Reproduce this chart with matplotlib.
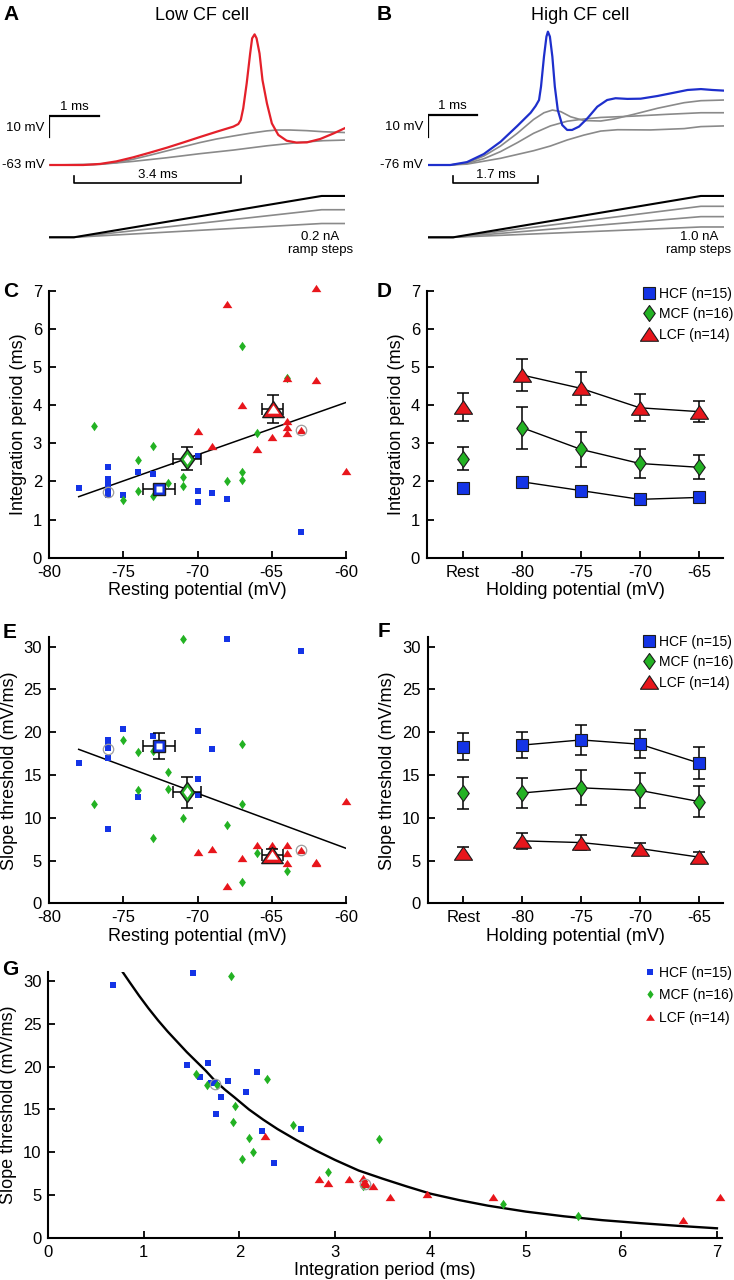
import numpy as np
import matplotlib.pyplot as plt
from matplotlib.path import Path
from matplotlib.lines import Line2D

plt.rcParams['font.family'] = ['Liberation Sans', 'DejaVu Sans']
plt.rcParams['axes.unicode_minus'] = False

# ---------------- data ----------------
# A: low CF cell (time ms, membrane potential mV)
a_red_t = [0, 0.69, 1.03, 1.36, 1.70, 2.04, 2.38, 2.72, 3.05, 3.39, 3.73, 3.83, 3.88, 3.93, 4.0,
           4.07, 4.11, 4.16, 4.20, 4.26, 4.32, 4.41, 4.51, 4.64, 4.81, 5.01, 5.22, 5.49, 5.76, 6.01]
a_red_v = [-63, -63, -62.5, -61.3, -59.4, -57.2, -54.9, -52.4, -49.9, -47.4, -45.0, -43.8, -41.9, -36.4, -24.7,
           -10.7, -3.6, -1.75, -3.6, -10.7, -23.2, -34.1, -43.5, -48.9, -51.6, -52.5, -52.4, -50.8, -48.2, -45.5]
a_gray1_t = [0, 0.89, 1.36, 1.70, 2.04, 2.38, 2.72, 3.05, 3.39, 3.73, 4.07, 4.41, 4.61, 4.88, 5.22, 5.55, 6.01]
a_gray1_v = [-63, -62.8, -61.9, -60.3, -58.4, -56.4, -54.4, -52.5, -50.8, -49.4, -48.1, -47.0, -46.6, -46.6,
             -46.9, -47.4, -47.8]
a_gray2_t = [0, 1.03, 1.70, 2.38, 3.05, 3.73, 4.41, 5.08, 5.55, 6.01]
a_gray2_v = [-63, -62.7, -61.3, -59.6, -57.7, -56.0, -54.0, -52.4, -51.6, -51.3]
a_ramp_t = [0, 0.5, 5.52, 6.02]
a_ramp_amp = [0.6, 0.4, 0.2]  # nA

# B: high CF cell
b_blue_t = [0, 0.45, 0.79, 1.13, 1.47, 1.81, 2.08, 2.18, 2.25, 2.29, 2.35, 2.40, 2.43, 2.47, 2.52, 2.57,
            2.63, 2.72, 2.82, 2.92, 3.06, 3.23, 3.43, 3.63, 3.80, 4.04, 4.31, 4.65, 4.99, 5.26, 5.53, 5.76, 6.0]
b_blue_v = [-76, -76, -74.7, -71.1, -65.6, -58.5, -52.6, -49.6, -46.9, -40.9, -27.5, -18.5, -16.3, -18.5,
            -27.5, -40.9, -51.4, -58.1, -60.3, -60.3, -58.8, -55.1, -49.9, -46.9, -46.1, -46.4, -46.3, -45.1,
            -43.6, -42.4, -42.0, -42.4, -42.7]
b_gray1_t = [0, 0.45, 0.79, 1.13, 1.47, 1.81, 2.14, 2.35, 2.52, 2.69, 2.89, 3.16, 3.50, 3.77, 4.17, 4.65,
             5.19, 5.53, 6.0]
b_gray1_v = [-76, -76, -75, -72, -67.5, -61.8, -55.6, -52.6, -51.4, -52.1, -54.4, -56.1, -56.3, -55.4, -53.3,
             -50.6, -48.1, -47.2, -46.9]
b_gray2_t = [0, 0.45, 0.79, 1.13, 1.47, 1.81, 2.14, 2.48, 2.82, 3.16, 3.50, 4.17, 4.85, 5.53, 6.0]
b_gray2_v = [-76, -76, -75.3, -73.2, -70.0, -66.0, -61.8, -58.5, -56.4, -55.4, -54.7, -54.1, -53.3, -52.6, -52.6]
b_gray3_t = [0, 0.45, 0.79, 1.47, 2.14, 2.48, 2.82, 3.16, 3.50, 3.84, 4.51, 5.19, 5.53, 6.0]
b_gray3_v = [-76, -76, -75.6, -73.0, -69.6, -67.5, -64.8, -62.6, -60.8, -60.2, -60.3, -59.7, -58.8, -58.5]
b_ramp_t = [0, 0.51, 5.53, 6.0]
b_ramp_amp = [4.0, 3.0, 2.0, 1.0]  # nA

# C: resting potential vs integration period
hcf_rest_c = [-78, -76, -76, -76, -76, -76, -75, -74, -73, -70, -70, -70, -69, -68, -63]
hcf_int_c = [1.82, 2.38, 2.06, 1.91, 1.75, 1.65, 1.64, 2.24, 2.19, 2.67, 1.76, 1.47, 1.70, 1.53, 0.68]
mcf_rest_c = [-77, -75, -74, -74, -73, -73, -72, -71, -71, -68, -67, -67, -67, -66, -64]
mcf_int_c = [3.45, 1.51, 2.55, 1.76, 2.92, 1.62, 1.96, 2.12, 1.89, 2.0, 5.55, 2.24, 2.05, 3.27, 4.71]
lcf_rest_c = [-70, -69, -68, -67, -66, -65, -64, -64, -64, -64, -63, -62, -62, -60]
lcf_int_c = [3.33, 2.92, 6.64, 4.0, 2.86, 3.17, 3.59, 3.42, 3.28, 4.72, 3.34, 4.67, 7.06, 2.26]
c_mean_x = [-72.6, -70.7, -64.93]
c_mean_y = [1.80, 2.60, 3.90]
c_mean_xerr = [1.06, 0.96, 0.7]
c_mean_yerr = [0.1, 0.31, 0.37]
c_fit_x = [-78, -60]
c_fit_y = [1.60, 4.07]
c_circ_x = [-76, -63]
c_circ_y = [1.72, 3.34]

# D: holding potential vs integration period
hold_labels = ['Rest', '-80', '-75', '-70', '-65']
d_hcf = [1.82, 1.99, 1.76, 1.53, 1.58]
d_hcf_err = [0.08, 0.1, 0.08, 0.06, 0.07]
d_mcf = [2.60, 3.41, 2.84, 2.47, 2.37]
d_mcf_err = [0.31, 0.55, 0.45, 0.37, 0.31]
d_lcf = [3.96, 4.79, 4.44, 3.93, 3.83]
d_lcf_err = [0.37, 0.41, 0.44, 0.35, 0.28]

# E: resting potential vs slope threshold
hcf_rest_e = [-78, -76, -76, -76, -76, -76, -75, -74, -73, -70, -70, -70, -69, -68, -63]
hcf_slope_e = [16.4, 19.1, 18.4, 18.1, 16.95, 8.65, 20.4, 12.4, 19.6, 20.1, 14.5, 12.7, 18.0, 30.85, 29.5]
mcf_rest_e = [-77, -75, -74, -74, -73, -72, -72, -71, -71, -68, -67, -67, -67, -66, -64, -73]
mcf_slope_e = [11.6, 19.1, 17.7, 13.2, 7.6, 15.4, 13.4, 30.85, 10.0, 9.15, 18.6, 11.6, 2.53, 5.92, 3.81, 17.8]
lcf_rest_e = [-70, -69, -68, -67, -66, -65, -64, -64, -64, -63, -62, -62, -60]
lcf_slope_e = [6.04, 6.31, 2.03, 5.24, 6.82, 6.82, 6.82, 5.92, 4.68, 6.2, 4.68, 4.8, 11.96]
e_mean_x = [-72.6, -70.7, -64.95]
e_mean_y = [18.4, 12.97, 5.7]
e_mean_xerr = [1.08, 0.96, 0.73]
e_mean_yerr = [1.56, 1.85, 0.7]
e_fit_x = [-78, -60]
e_fit_y = [18.0, 6.43]
e_circ_x = [-76, -63]
e_circ_y = [18.05, 6.2]

# F: holding potential vs slope threshold
f_hcf = [18.3, 18.5, 19.1, 18.6, 16.4]
f_hcf_err = [1.6, 1.5, 1.75, 1.65, 1.9]
f_mcf = [12.9, 12.9, 13.5, 13.2, 11.9]
f_mcf_err = [1.85, 1.8, 2.05, 2.0, 1.8]
f_lcf = [5.84, 7.3, 7.1, 6.4, 5.4]
f_lcf_err = [0.7, 0.9, 0.85, 0.7, 0.6]

# G: integration period vs slope threshold
hcf_int_g = [0.68, 1.52, 1.45, 1.67, 1.59, 1.70, 1.75, 1.88, 2.19, 1.81, 2.07, 1.76, 2.24, 2.65, 2.36]
hcf_slope_g = [29.5, 30.9, 20.2, 20.45, 18.8, 18.1, 18.1, 18.3, 19.4, 16.5, 17.0, 14.5, 12.5, 12.7, 8.7]
mcf_int_g = [1.91, 1.55, 1.66, 1.77, 2.29, 1.95, 1.93, 2.56, 2.10, 2.14, 2.03, 2.93, 3.29, 3.46, 4.76, 5.55]
mcf_slope_g = [30.6, 19.1, 17.8, 17.8, 18.5, 15.4, 13.5, 13.2, 11.6, 10.05, 9.2, 7.64, 6.08, 11.5, 3.9, 2.57]
lcf_int_g = [2.27, 2.83, 2.93, 3.15, 3.29, 3.33, 3.31, 3.40, 3.58, 3.96, 4.66, 6.64, 7.03]
lcf_slope_g = [11.9, 6.86, 6.36, 6.86, 7.0, 6.3, 6.55, 6.08, 4.75, 5.06, 4.79, 2.06, 4.79]
g_fit_x = [0.77, 0.85, 0.95, 1.05, 1.15, 1.25, 1.35, 1.45, 1.55, 1.65, 1.74, 1.85, 1.95, 2.1, 2.25, 2.4,
           2.6, 2.8, 3.0, 3.25, 3.5, 3.75, 4.0, 4.3, 4.6, 5.0, 5.4, 5.8, 6.2, 6.6, 7.0]
g_fit_y = [31.2, 29.9, 28.3, 26.8, 25.4, 24.1, 22.9, 21.7, 20.6, 19.5, 18.4, 17.3, 16.4, 15.0, 13.8, 12.7,
           11.4, 10.2, 9.1, 7.85, 6.9, 6.0, 5.15, 4.4, 3.75, 3.05, 2.5, 2.05, 1.7, 1.38, 1.1]
g_circ_x = [1.74, 3.32]
g_circ_y = [18.0, 6.28]

group_labels = ['HCF (n=15)', 'MCF (n=16)', 'LCF (n=14)']

# ---------------- style ----------------
BLUE = '#1434e6'
GREEN = '#23b223'
RED = '#e8161c'
EDGE = '#1c1c1c'
GRAY = '#8a8a8a'
TRACE_RED = '#e4202a'
TRACE_BLUE = '#1e2fcc'

DIAMOND = Path([(0, 1), (0.72, 0), (0, -1), (-0.72, 0), (0, 1)], closed=True)
TRIANGLE = Path([(0, 0.75), (1, -0.75), (-1, -0.75), (0, 0.75)], closed=True)
MARKERS = ['s', DIAMOND, TRIANGLE]
COLORS = [BLUE, GREEN, RED]

W, H = 734, 1280
fig = plt.figure(figsize=(W / 100, H / 100), dpi=100)


def px_axes(x0, y0, x1, y1):
    """Axes from a pixel box measured from the top-left corner."""
    return fig.add_axes([x0 / W, 1 - y1 / H, (x1 - x0) / W, (y1 - y0) / H])


def ftext(x, y, s, **kw):
    fig.text(x / W, 1 - y / H, s, **kw)


def style(ax):
    for s in ['top', 'right']:
        ax.spines[s].set_visible(False)
    for s in ['left', 'bottom']:
        ax.spines[s].set_linewidth(1.5)
    ax.tick_params(direction='in', length=5, width=1.3, labelsize=12, pad=5)


# ---------------- A / B traces ----------------
def trace_panel(x0, vlim, rlim, traces, ramp_t, ramp_amp, base, scale_v0, bracket, labels):
    ax = px_axes(x0, 20, x0 + 6 * 49.35, 200)
    ax.set_xlim(0, 6)
    ax.set_ylim(*vlim)
    ax.axis('off')
    for t, v, c, lw in traces:
        ax.plot(t, v, color=c, lw=lw, solid_capstyle='butt', zorder=3 if c != GRAY else 2)
    # scale bar: 1 ms, 10 mV
    ax.plot([0, 0, 1], [scale_v0, scale_v0 + 10, scale_v0 + 10], color='k', lw=1.6)
    ax.text(0.5, scale_v0 + 14, '1 ms', ha='center', va='center', fontsize=9.5)
    ax.text(-0.1, scale_v0 + 4.5, '10 mV', ha='right', va='center', fontsize=9.5)
    ax.text(-0.1, base, labels[0], ha='right', va='center', fontsize=9.5)
    # integration period bracket
    b0, b1, bl, bt = bracket
    ax.plot([b0, b0, b1, b1], [bt, bl, bl, bt], color='k', lw=1.2)
    ax.text((b0 + b1) / 2, bt + 0.3, labels[1], ha='center', va='center', fontsize=9.5)

    axr = px_axes(x0, 185, x0 + 6 * 49.35, 255)
    axr.set_xlim(0, 6)
    axr.set_ylim(*rlim)
    axr.axis('off')
    for i, amp in enumerate(ramp_amp):
        axr.plot(ramp_t, [0, 0, amp, amp], color='k' if i == 0 else GRAY,
                 lw=1.5 if i == 0 else 1.2, zorder=3 - i * 0.1)
    axr.text(5.49, labels[3], labels[2], ha='center', va='top', fontsize=9.5, linespacing=1.05)


trace_panel(49.3, (-79.41, 4.98), (-0.257, 0.759),
            [(a_gray2_t, a_gray2_v, GRAY, 1.2), (a_gray1_t, a_gray1_v, GRAY, 1.2),
             (a_red_t, a_red_v, TRACE_RED, 1.6)],
            a_ramp_t, a_ramp_amp, -63, -50, (0.5, 3.88, -71.3, -68.2),
            ['-63 mV', '3.4 ms', '0.2 nA\nramp steps', 0.09])
trace_panel(428, (-91.67, -11.07), (-1.71, 5.06),
            [(b_gray3_t, b_gray3_v, GRAY, 1.2), (b_gray2_t, b_gray2_v, GRAY, 1.2),
             (b_gray1_t, b_gray1_v, GRAY, 1.2), (b_blue_t, b_blue_v, TRACE_BLUE, 1.6)],
            b_ramp_t, b_ramp_amp, -76, -63.6, (0.51, 2.23, -83.9, -80.9),
            ['-76 mV', '1.7 ms', '1.0 nA\nramp steps', 0.6])

ftext(201.7, 20.5, 'Low CF cell', ha='center', va='baseline', fontsize=13)
ftext(580.3, 20.5, 'High CF cell', ha='center', va='baseline', fontsize=13)


# ---------------- scatter panels (C, E, G) ----------------
def scatter_groups(ax, xs, ys, ms=(4.4, 6.8, 7.0)):
    for x, y, m, c, s in zip(xs, ys, MARKERS, COLORS, ms):
        ax.plot(x, y, ls='none', marker=m, ms=s, mfc=c, mec=c, mew=0, zorder=3, clip_on=False)


def mean_markers(ax, mx, my, mxe, mye):
    outer = [9.0, 14.5, 15.5]
    inner = [5.0, 7.5, 8.0]
    for i in range(3):
        ax.errorbar(mx[i], my[i], xerr=mxe[i], yerr=mye[i], fmt='none', ecolor='k',
                    elinewidth=1.1, capsize=4, capthick=1.1, zorder=5)
        ax.plot(mx[i], my[i], marker=MARKERS[i], ms=outer[i], mfc=COLORS[i], mec=EDGE, mew=1, zorder=6)
        ax.plot(mx[i], my[i], marker=MARKERS[i], ms=inner[i], mfc='white', mec='none', zorder=7)


def circles(ax, x, y):
    ax.plot(x, y, ls='none', marker='o', ms=7.5, mfc='none', mec='#9c9c9c', mew=0.9, zorder=4)


# C
axc = px_axes(49, 290.7, 346, 557.7)
style(axc)
axc.plot(c_fit_x, c_fit_y, color='k', lw=1.1, zorder=2)
scatter_groups(axc, [hcf_rest_c, mcf_rest_c, lcf_rest_c], [hcf_int_c, mcf_int_c, lcf_int_c])
circles(axc, c_circ_x, c_circ_y)
mean_markers(axc, c_mean_x, c_mean_y, c_mean_xerr, c_mean_yerr)
axc.set_xlim(-80, -60)
axc.set_ylim(0, 7)
axc.set_xticks(range(-80, -59, 5))
axc.set_yticks(range(0, 8))
axc.set_xlabel('Resting potential (mV)', fontsize=13, labelpad=2)
axc.set_ylabel('Integration period (ms)', fontsize=13, labelpad=4)

# E
axe = px_axes(49, 637.3, 346, 903.3)
style(axe)
axe.plot(e_fit_x, e_fit_y, color='k', lw=1.1, zorder=2)
scatter_groups(axe, [hcf_rest_e, mcf_rest_e, lcf_rest_e], [hcf_slope_e, mcf_slope_e, lcf_slope_e])
circles(axe, e_circ_x, e_circ_y)
mean_markers(axe, e_mean_x, e_mean_y, e_mean_xerr, e_mean_yerr)
axe.set_xlim(-80, -60)
axe.set_ylim(0, 31.1)
axe.set_xticks(range(-80, -59, 5))
axe.set_yticks(range(0, 31, 5))
axe.set_xlabel('Resting potential (mV)', fontsize=13, labelpad=2)
axe.set_ylabel('Slope threshold (mV/ms)', fontsize=13, labelpad=4)

# G
axg = px_axes(48.3, 971.7, 721.7, 1237.7)
style(axg)
axg.plot(g_fit_x, g_fit_y, color='k', lw=1.7, zorder=2)
scatter_groups(axg, [hcf_int_g, mcf_int_g, lcf_int_g], [hcf_slope_g, mcf_slope_g, lcf_slope_g])
circles(axg, g_circ_x, g_circ_y)
axg.set_xlim(0, 7.05)
axg.set_ylim(0, 31.1)
axg.set_xticks(range(0, 8))
axg.set_yticks(range(0, 31, 5))
axg.set_xlabel('Integration period (ms)', fontsize=13, labelpad=2)
axg.set_ylabel('Slope threshold (mV/ms)', fontsize=13, labelpad=4)
g_handles = [Line2D([], [], ls='none', marker=m, ms=s, mfc=c, mec=c, mew=0)
             for m, c, s in zip(MARKERS, COLORS, (4.0, 6.2, 6.4))]
axg.legend(g_handles, group_labels, loc='upper right', bbox_to_anchor=(733 / W, 1 - 966 / H),
           bbox_transform=fig.transFigure, frameon=False, fontsize=10, handlelength=0.6,
           handletextpad=0.3, labelspacing=0.6, borderpad=0, borderaxespad=0)


# ---------------- D / F ----------------
def holding_panel(ax, vals, errs):
    x = np.arange(len(hold_labels))
    sizes = [8.5, 11.5, 13]
    for i in range(3):
        ax.errorbar(x, vals[i], yerr=errs[i], fmt='none', ecolor='k', elinewidth=1.1,
                    capsize=4.3, capthick=1.1, zorder=2)
        ax.plot(x[1:], vals[i][1:], color='k', lw=1.0, zorder=2)
        ax.plot(x, vals[i], ls='none', marker=MARKERS[i], ms=sizes[i], mfc=COLORS[i],
                mec=EDGE, mew=0.8, zorder=3)
    ax.set_xlim(-0.61, 4.41)
    ax.set_xticks(x)
    ax.set_xticklabels(hold_labels)
    ax.set_xlabel('Holding potential (mV)', fontsize=13, labelpad=2)
    handles = [Line2D([], [], ls='none', marker=m, ms=s, mfc=c, mec=EDGE, mew=0.8)
               for m, c, s in zip(MARKERS, COLORS, sizes)]
    return handles


axd = px_axes(427, 290.7, 723, 557.7)
style(axd)
hd = holding_panel(axd, [d_hcf, d_mcf, d_lcf], [d_hcf_err, d_mcf_err, d_lcf_err])
axd.set_ylim(0, 7)
axd.set_yticks(range(0, 8))
axd.set_ylabel('Integration period (ms)', fontsize=13, labelpad=4)
axd.legend(hd, group_labels, loc='upper right', bbox_to_anchor=(733 / W, 1 - 287 / H),
           bbox_transform=fig.transFigure, frameon=False, fontsize=10, handlelength=1.0,
           handletextpad=0.2, labelspacing=0.45, borderpad=0, borderaxespad=0)

axf = px_axes(427.5, 637.3, 723, 903.3)
style(axf)
hf = holding_panel(axf, [f_hcf, f_mcf, f_lcf], [f_hcf_err, f_mcf_err, f_lcf_err])
axf.set_ylim(0, 31.1)
axf.set_yticks(range(0, 31, 5))
axf.set_ylabel('Slope threshold (mV/ms)', fontsize=13, labelpad=4)
axf.legend(hf, group_labels, loc='upper right', bbox_to_anchor=(733 / W, 1 - 635 / H),
           bbox_transform=fig.transFigure, frameon=False, fontsize=10, handlelength=1.0,
           handletextpad=0.2, labelspacing=0.45, borderpad=0, borderaxespad=0)

# panel letters
for letter, x, y in [('A', 3, 20.5), ('B', 377, 19.5), ('C', 3, 297), ('D', 377, 297),
                     ('E', 3, 637.5), ('F', 378, 637), ('G', 2, 975)]:
    ftext(x, y, letter, fontsize=15, fontweight='bold', va='baseline', ha='left')

fig.savefig('out.png', dpi=100)
